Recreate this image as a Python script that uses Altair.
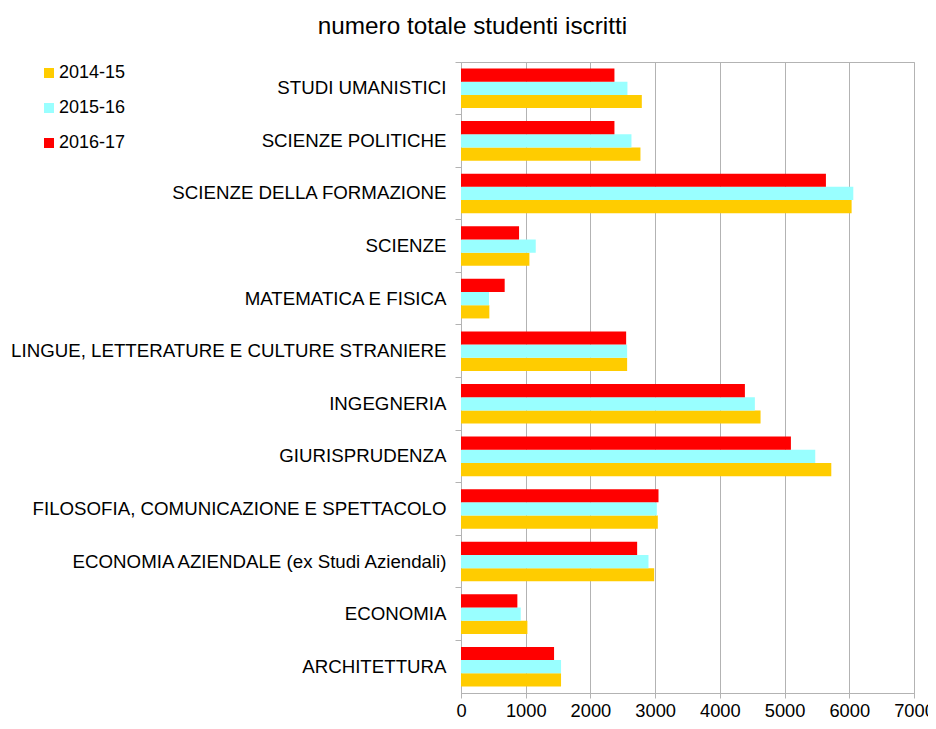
import altair as alt
import pandas as pd

categories = [
    "STUDI UMANISTICI",
    "SCIENZE POLITICHE",
    "SCIENZE DELLA FORMAZIONE",
    "SCIENZE",
    "MATEMATICA E FISICA",
    "LINGUE, LETTERATURE E CULTURE STRANIERE",
    "INGEGNERIA",
    "GIURISPRUDENZA",
    "FILOSOFIA, COMUNICAZIONE E SPETTACOLO",
    "ECONOMIA AZIENDALE (ex Studi Aziendali)",
    "ECONOMIA",
    "ARCHITETTURA",
]
years = ["2014-15", "2015-16", "2016-17"]
v_2014_15 = [2794, 2773, 6036, 1057, 438, 2567, 4629, 5722, 3041, 2985, 1026, 1546]
v_2015_16 = [2572, 2634, 6062, 1155, 433, 2567, 4541, 5474, 3026, 2897, 923, 1546]
v_2016_17 = [2371, 2371, 5639, 897, 675, 2552, 4387, 5098, 3052, 2722, 871, 1438]
colors = ["#ffcc00", "#99ffff", "#ff0000"]
x_ticks = [0, 1000, 2000, 3000, 4000, 5000, 6000, 7000]

rows = []
for yr, vals in zip(years, [v_2014_15, v_2015_16, v_2016_17]):
    for c, v in zip(categories, vals):
        rows.append({"facolta": c, "anno": yr, "studenti": v})
df = pd.DataFrame(rows)

FONT = "Liberation Sans"
GRID = "#b3b3b3"

chart = alt.Chart(df).mark_bar().encode(
    x=alt.X(
        "studenti:Q",
        scale=alt.Scale(domain=[0, 7000], nice=False),
        axis=alt.Axis(
            title=None, values=x_ticks, format="d", grid=True, gridColor=GRID,
            domainColor=GRID, tickColor=GRID, tickSize=5, labelFontSize=18.3,
            labelFont=FONT, labelColor="#000000", labelPadding=4, labelFlush=False,
        ),
    ),
    y=alt.Y(
        "facolta:N",
        sort=categories,
        scale=alt.Scale(paddingInner=0, paddingOuter=0),
        axis=alt.Axis(
            title=None, grid=False, bandPosition=0, domainColor=GRID,
            tickColor=GRID, tickSize=6, labelPadding=9, labelFontSize=18.7,
            labelFont=FONT, labelColor="#000000", labelLimit=600,
        ),
    ),
    yOffset=alt.YOffset(
        "anno:N",
        sort=["2016-17", "2015-16", "2014-15"],
        scale=alt.Scale(paddingInner=0, paddingOuter=0.49),
    ),
    color=alt.Color(
        "anno:N",
        scale=alt.Scale(domain=years, range=colors),
        legend=alt.Legend(
            title=None, orient="none", legendX=-421, legendY=2,
            symbolType="square", symbolSize=100, symbolStrokeWidth=0,
            labelFontSize=18, labelFont=FONT, labelColor="#000000",
            rowPadding=17, labelOffset=1,
        ),
    ),
).properties(
    width=453,
    height=631,
    title=alt.Title(
        "numero totale studenti iscritti",
        fontSize=24.3, font=FONT, fontWeight="normal", color="#000000",
        anchor="middle", frame="bounds", offset=22,
    ),
    autosize=alt.AutoSizeParams(type="none"),
    padding={"left": 453, "top": 54, "right": 14, "bottom": 28},
).configure_view(stroke=GRID)

chart.save("out.html", embed_options={"renderer": "svg", "actions": False})
